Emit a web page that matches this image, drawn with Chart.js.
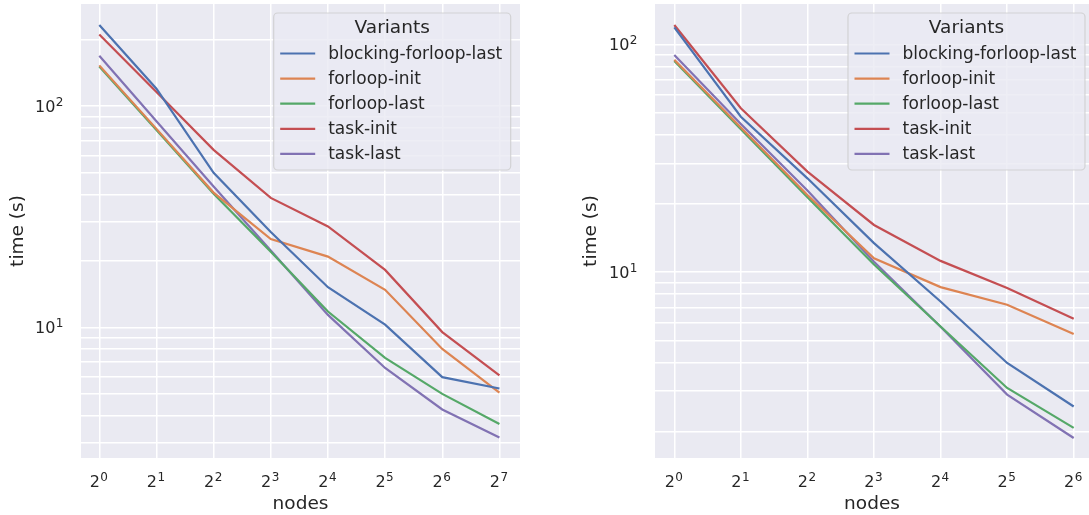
<!DOCTYPE html>
<html>
<head>
<meta charset="utf-8">
<script src="https://cdn.jsdelivr.net/npm/chart.js@4.4.0/dist/chart.umd.min.js"></script>
<style>
html, body { margin: 0; padding: 0; background: #fff; overflow: hidden; }
canvas { position: absolute; top: 0; }
#chartLeft { left: 0; }
#chartRight { left: 545px; }
</style>
</head>
<body>
<canvas id="chartLeft" width="545" height="515"></canvas>
<canvas id="chartRight" width="544" height="515"></canvas>
<script>
// series names + seaborn "deep" colours
var variants = ['blocking-forloop-last', 'forloop-init', 'forloop-last', 'task-init', 'task-last'];
var colors = ['#4c72b0', '#dd8452', '#55a868', '#c44e52', '#8172b3'];

// left panel: nodes 1..128
var nodesLeft = [1, 2, 4, 8, 16, 32, 64, 128];
var leftBlocking   = [233, 120, 50, 27, 15.2, 10.3, 5.96, 5.3];
var leftForInit    = [153, 79, 40.7, 25.1, 20.9, 14.8, 8.0, 5.07];
var leftForLast    = [151, 78, 40.2, 22, 11.8, 7.28, 5.01, 3.66];
var leftTaskInit   = [211, 116, 63.5, 38.5, 28.6, 18.2, 9.53, 6.07];
var leftTaskLast   = [169, 85.6, 43.4, 22.3, 11.4, 6.56, 4.26, 3.18];

// right panel: nodes 1..64
var nodesRight = [1, 2, 4, 8, 16, 32, 64];
var rightBlocking  = [118.7, 48.1, 25.8, 13.4, 7.43, 3.99, 2.57];
var rightForInit   = [85.5, 43.1, 21.8, 11.5, 8.59, 7.19, 5.35];
var rightForLast   = [84.5, 42.4, 21.3, 10.8, 5.77, 3.10, 2.07];
var rightTaskInit  = [121.5, 52.4, 27.6, 16.1, 11.2, 8.51, 6.24];
var rightTaskLast  = [89.7, 44.7, 22.8, 11.1, 5.75, 2.90, 1.87];

// y grid lines (log minor ticks), labels only on decades
var yGridLeft  = [3, 4, 5, 6, 7, 8, 9, 10, 20, 30, 40, 50, 60, 70, 80, 90, 100, 200];
var yGridRight = [2, 3, 4, 5, 6, 7, 8, 9, 10, 20, 30, 40, 50, 60, 70, 80, 90, 100];
// tick labels: base and exponent, drawn as "base^exp"
var xTickBase = '2';
var yTickBase = '10';
var yTickExp = {10: '1', 100: '2'};

var textColor = '#262626';
var font = '"DejaVu Sans", sans-serif';

var areaBg = {
    id: 'areaBg',
    beforeDraw: function(chart) {
        var a = chart.chartArea;
        chart.ctx.save();
        chart.ctx.fillStyle = '#eaeaf2';
        chart.ctx.fillRect(a.left, a.top, a.right - a.left, a.bottom - a.top);
        chart.ctx.restore();
    }
};

// width of a "base^exp" label
function powerWidth(ctx, base, exp) {
    ctx.font = '16px ' + font;
    var w = ctx.measureText(base).width;
    ctx.font = '12px ' + font;
    return w + 0.5 + ctx.measureText(exp).width;
}

function drawPower(ctx, base, exp, x, y) {
    ctx.font = '16px ' + font;
    ctx.fillText(base, x, y);
    var w = ctx.measureText(base).width;
    ctx.font = '12px ' + font;
    ctx.fillText(exp, x + w + 0.5, y - 6);
}

// tick labels with mathtext-like superscripts, placed on the scale's own tick pixels
var powerTicks = {
    id: 'powerTicks',
    afterDraw: function(chart) {
        var ctx = chart.ctx, a = chart.chartArea;
        var xs = chart.scales.x, ys = chart.scales.y;
        ctx.save();
        ctx.fillStyle = textColor;
        ctx.textAlign = 'left';
        ctx.textBaseline = 'alphabetic';
        xs.ticks.forEach(function(t) {
            var exp = String(Math.round(Math.log2(t.value)));
            var px = xs.getPixelForValue(t.value);
            var w = powerWidth(ctx, xTickBase, exp);
            drawPower(ctx, xTickBase, exp, px - w / 2 - 0.5, a.bottom + 29);
        });
        ys.ticks.forEach(function(t) {
            var exp = yTickExp[t.value];
            if (!exp) return;
            var py = ys.getPixelForValue(t.value);
            var w = powerWidth(ctx, yTickBase, exp);
            drawPower(ctx, yTickBase, exp, a.left - 17.5 - w, py + 6);
        });
        ctx.restore();
    }
};

// matplotlib style legend box in the upper right of the plot
var legendBox = {
    id: 'legendBox',
    afterDatasetsDraw: function(chart, args, opts) {
        var ctx = chart.ctx;
        var w = 237, h = 157;
        var x = chart.chartArea.right - opts.inset - w;
        var y = chart.chartArea.top + 9;
        ctx.save();
        ctx.beginPath();
        ctx.roundRect(x, y, w, h, 4);
        ctx.fillStyle = 'rgba(234,234,242,0.8)';
        ctx.fill();
        ctx.strokeStyle = 'rgba(204,204,204,0.8)';
        ctx.lineWidth = 1.2;
        ctx.stroke();
        ctx.fillStyle = textColor;
        ctx.textBaseline = 'middle';
        ctx.textAlign = 'center';
        ctx.font = '18.5px ' + font;
        ctx.fillText('Variants', x + w / 2, y + 15);
        ctx.textAlign = 'left';
        ctx.font = '17px ' + font;
        chart.data.datasets.forEach(function(ds, i) {
            var cy = y + 40.5 + i * 25.1;
            ctx.strokeStyle = ds.borderColor;
            ctx.lineWidth = 2.2;
            ctx.beginPath();
            ctx.moveTo(x + 6.5, cy);
            ctx.lineTo(x + 41.5, cy);
            ctx.stroke();
            ctx.fillStyle = textColor;
            ctx.fillText(ds.label, x + 54.5, cy + 1);
        });
        ctx.restore();
    }
};

function makeDatasets(nodes, series) {
    return series.map(function(vals, i) {
        return {
            label: variants[i],
            data: nodes.map(function(n, j) { return {x: n, y: vals[j]}; }),
            borderColor: colors[i],
            backgroundColor: colors[i],
            borderWidth: 2.2,
            pointRadius: 0,
            tension: 0,
            fill: false
        };
    });
}

function makeChart(id, nodes, series, cfg) {
    var ctx = document.getElementById(id).getContext('2d');
    return new Chart(ctx, {
        type: 'line',
        data: { datasets: makeDatasets(nodes, series) },
        options: {
            responsive: false,
            animation: false,
            layout: { padding: { top: 4, right: cfg.padRight, left: 0, bottom: 0 } },
            plugins: {
                legend: { display: false },
                tooltip: { enabled: false },
                legendBox: { inset: cfg.inset }
            },
            scales: {
                x: {
                    type: 'logarithmic',
                    min: Math.pow(2, cfg.xMin),
                    max: Math.pow(2, cfg.xMax),
                    afterBuildTicks: function(scale) {
                        scale.ticks = nodes.map(function(v) { return {value: v}; });
                    },
                    afterFit: function(scale) {
                        scale.height = 57;
                        scale.paddingLeft = 0;
                        scale.paddingRight = 0;
                    },
                    grid: { color: '#ffffff', lineWidth: 1.5, drawTicks: false },
                    border: { display: false },
                    ticks: { display: false },
                    title: {
                        display: true,
                        text: 'nodes',
                        color: textColor,
                        font: { family: font, size: 18.5 },
                        padding: { top: 0, bottom: 0 }
                    }
                },
                y: {
                    type: 'logarithmic',
                    min: cfg.yMin,
                    max: cfg.yMax,
                    afterBuildTicks: function(scale) {
                        scale.ticks = cfg.yGrid.map(function(v) { return {value: v}; });
                    },
                    afterFit: function(scale) {
                        scale.width = cfg.axisWidth;
                        scale.paddingTop = 0;
                        scale.paddingBottom = 0;
                    },
                    grid: { color: '#ffffff', lineWidth: 1.5, drawTicks: false },
                    border: { display: false },
                    ticks: { display: false },
                    title: {
                        display: true,
                        text: 'time (s)',
                        color: textColor,
                        font: { family: font, size: 18.5 },
                        padding: { top: cfg.titlePad, bottom: 0 }
                    }
                }
            }
        },
        plugins: [areaBg, legendBox, powerTicks]
    });
}

makeChart('chartLeft', nodesLeft,
    [leftBlocking, leftForInit, leftForLast, leftTaskInit, leftTaskLast],
    { xMin: -0.32, xMax: 7.36, yMin: 2.57, yMax: 289.8, yGrid: yGridLeft,
      axisWidth: 81, padRight: 25, titlePad: 7, inset: 9.3 });

makeChart('chartRight', nodesRight,
    [rightBlocking, rightForInit, rightForLast, rightTaskInit, rightTaskLast],
    { xMin: -0.29, xMax: 6.23, yMin: 1.527, yMax: 150.3, yGrid: yGridRight,
      axisWidth: 110, padRight: 0, titlePad: 35, inset: 4 });
</script>
</body>
</html>
